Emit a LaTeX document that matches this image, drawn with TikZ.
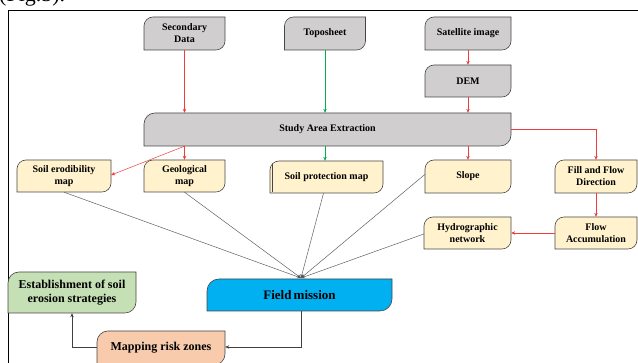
\documentclass[tikz,border=0pt]{standalone}
\usepackage{fontspec}
\setmainfont{Liberation Serif}
\usetikzlibrary{arrows.meta}
\definecolor{boxgray}{RGB}{208,206,206}
\definecolor{boxyellow}{RGB}{255,242,204}
\definecolor{boxcyan}{RGB}{0,176,240}
\definecolor{boxgreen}{RGB}{197,224,180}
\definecolor{boxpeach}{RGB}{248,203,173}
\definecolor{boxedge}{RGB}{70,70,70}
\definecolor{lred}{RGB}{240,60,60}
\definecolor{lgreen}{RGB}{0,176,80}
\definecolor{lgray}{RGB}{95,95,105}
\newcommand\dbox[9]{% name, cx, cy(px from top), w, h, fill, radius, font size, text
  \begin{scope}[shift={(#2,{363-#3})}]
    \filldraw[fill=#6, draw=boxedge, line width=0.6pt]
      ({-#4/2},{-#5/2}) -- ({-#4/2},{#5/2-#7}) arc[start angle=180,end angle=90,radius=#7pt]
      -- ({#4/2},{#5/2}) -- ({#4/2},{-#5/2+#7}) arc[start angle=0,end angle=-90,radius=#7pt] -- cycle;
  \end{scope}
  \node[txt, minimum width=#4pt, minimum height=#5pt, font=\bfseries\fontsize{#8pt}{\dimexpr#8pt*6/5\relax}\selectfont] (#1) at (#2,{363-#3}) {#9};
}
\tikzset{
  txt/.style={inner sep=0pt, draw=none, align=center, text=black},
  redarrow/.style={draw=lred, line width=0.5pt, -{Stealth[length=4pt,width=3.4pt]}},
  greenarrow/.style={draw=lgreen, line width=0.5pt, -{Stealth[length=4pt,width=3.4pt]}},
  grayarrow/.style={draw=lgray, line width=0.5pt, -{Stealth[length=4pt,width=3.4pt,fill=black]}},
  darkarrow/.style={draw=black!75, line width=0.6pt, -{Stealth[length=4pt,width=3.4pt]}},
}
\begin{document}
\begin{tikzpicture}[x=1pt,y=1pt]
\useasboundingbox (0,0) rectangle (638,363);
\clip (0,0) rectangle (638,363);
\node[anchor=base west, inner sep=0pt, font=\fontsize{22}{24}\selectfont] (fig) at (-1,361) {(Fig.5).};
\draw[line width=0.9pt] (8,-20) -- (8,353) -- (660,353);
% boxes
\dbox{sec}{184.5}{33.5}{81}{33}{boxgray}{9}{10}{Secondary\\Data}
\dbox{topo}{325}{33.5}{81}{33}{boxgray}{9}{10}{Toposheet}
\dbox{sat}{468}{33.5}{86}{33}{boxgray}{9}{10}{Satellite image}
\dbox{dem}{468}{81}{86}{32}{boxgray}{9}{10}{DEM}
\dbox{study}{327.5}{129.5}{367}{33}{boxgray}{11}{10}{Study Area Extraction}
\dbox{erod}{64}{176}{94}{32}{boxyellow}{9}{10}{Soil erodibility\\map}
\dbox{geo}{184.5}{176}{81}{32}{boxyellow}{9}{10}{Geological\\map}
\dbox{prot}{326.5}{177}{113}{32}{boxyellow}{9}{10}{Soil protection map}
\draw[boxedge, line width=0.6pt] (272.5,{363-164}) -- (272.5,{363-192});
\dbox{slope}{468}{176.5}{86}{33}{boxyellow}{9}{10}{Slope}
\dbox{fill}{596}{176.5}{82}{33}{boxyellow}{9}{10}{Fill and Flow\\Direction}
\dbox{hydro}{467.5}{233}{87}{32}{boxyellow}{9}{10}{Hydrographic\\network}
\dbox{accum}{596}{233}{82}{32}{boxyellow}{9}{10}{Flow\\Accumulation}
\dbox{field}{299.5}{295}{185}{32}{boxcyan}{12}{13}{Field\,mission}
\dbox{estab}{72}{292.5}{128}{41}{boxgreen}{11}{12}{Establishment of soil\\erosion strategies}
\dbox{mapping}{161}{348}{128}{34}{boxpeach}{11}{12}{Mapping risk zones}
% connectors
\draw[redarrow] (sec.south) -- (sec.south |- study.north);
\draw[greenarrow] (topo.south) -- (topo.south |- study.north);
\draw[redarrow] (sat.south) -- (dem.north);
\draw[redarrow] (dem.south) -- (dem.south |- study.north);
\draw[redarrow] (geo.north |- study.south) -- (geo.north);
\draw[redarrow] (geo.north |- study.south) -- ([yshift=1pt]erod.east);
\draw[greenarrow] (topo.south |- study.south) -- (topo.south |- prot.north);
\draw[redarrow] (slope.north |- study.south) -- (slope.north);
\draw[redarrow] (study.east) -- (fill.north |- study.east) -- (fill.north);
\draw[redarrow] (fill.south) -- (accum.north);
\draw[redarrow] (accum.west) -- (hydro.east);
\coordinate (conv) at (301,{363-278});
\draw[grayarrow] (erod.south) -- (conv);
\draw[grayarrow] (geo.south) -- (conv);
\draw[grayarrow] ([xshift=-3pt]prot.south) -- (conv);
\draw[grayarrow] ([yshift=2pt]slope.west) -- (conv);
\draw[grayarrow] ([yshift=-1pt]hydro.west) -- (conv);
\draw[darkarrow] ([xshift=2pt]field.south) |- ([yshift=1pt]mapping.east);
\draw[darkarrow] ([yshift=1pt]mapping.west) -| (estab.south);
\end{tikzpicture}
\end{document}
